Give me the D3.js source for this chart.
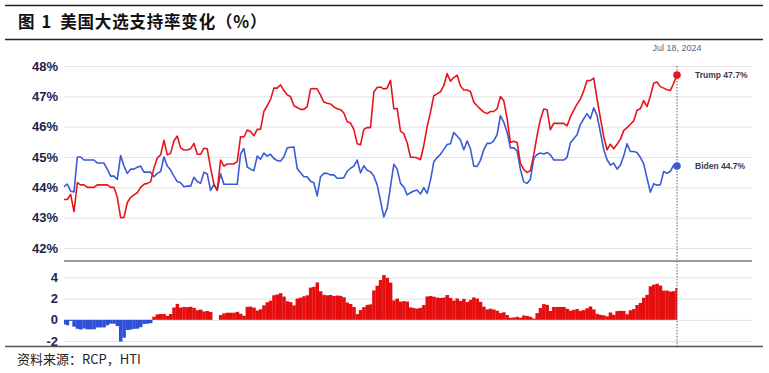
<!DOCTYPE html>
<html>
<head>
<meta charset="utf-8">
<script src="https://cdn.jsdelivr.net/npm/d3@7"></script>
<style>
  html, body { margin: 0; padding: 0; background: #fff; }
  svg { display: block; }
</style>
</head>
<body>
<svg id="chart" width="769" height="373"></svg>
<script>
// ---------------- DATA ----------------
const titleParts = ["图", "1", "美国大选支持率变化（%）"];
const sourceText = "资料来源：RCP，HTI";
const startDate = "2023-07-16";
const stepDays = 2;
const endLabel = "Jul 18, 2024";

const trump = [
 43.6,43.6,43.77,43.2,44.15,44.08,44.08,44.0,44.0,44.0,
 44.08,44.08,44.08,44.08,44.0,44.0,43.67,43.0,43.01,43.5,
 43.67,43.75,43.82,44.0,44.1,44.13,44.18,44.64,44.97,45.07,
 45.55,45.07,45.12,45.53,45.69,45.3,45.23,45.23,45.27,45.45,
 45.09,45.09,45.29,45.27,44.64,44.1,43.9,44.9,44.7,44.77,
 44.77,44.77,44.85,45.67,45.66,45.89,45.84,45.7,45.91,45.92,
 46.5,46.69,46.9,47.27,47.27,47.38,47.19,47.05,46.99,46.69,
 46.63,46.57,46.57,46.66,47.24,47.26,47.24,47.04,46.81,46.77,
 46.75,46.65,46.59,46.56,46.45,46.16,46.12,45.91,45.44,45.4,
 45.91,45.97,45.97,47.14,47.29,47.31,47.24,47.27,47.53,46.59,
 46.6,45.85,45.77,45.47,44.99,44.99,44.97,44.91,45.38,46.0,
 46.47,47.02,47.08,47.15,47.35,47.75,47.5,47.62,47.7,47.34,
 47.21,47.21,47.16,46.81,46.69,46.58,46.48,46.43,46.5,46.5,
 46.59,46.99,46.86,46.27,45.48,45.52,45.48,44.79,44.59,44.49,
 44.55,45.07,45.71,46.24,46.58,46.56,45.9,46.11,46.11,46.11,
 46.11,46.03,46.32,46.54,46.74,46.91,47.18,47.52,47.52,47.6,
 46.92,46.29,45.67,45.24,45.42,45.27,45.42,45.58,45.87,45.97,
 46.08,46.19,46.54,46.59,46.86,46.66,47.0,47.43,47.47,47.32,
 47.27,47.22,47.19,47.43,47.7
];

const biden = [
 44.02,44.11,43.87,43.85,45.0,45.0,44.9,44.9,44.9,44.9,
 44.8,44.8,44.8,44.6,44.37,44.37,44.26,45.05,44.7,44.46,
 44.6,44.6,44.66,44.7,44.5,44.5,44.5,44.35,44.46,44.52,
 45.0,44.7,44.57,44.37,44.19,44.15,44.02,44.04,44.04,44.33,
 44.19,44.13,44.5,44.44,43.9,44.1,43.9,44.45,44.1,44.1,
 44.1,44.1,44.1,45.1,45.28,44.67,44.6,44.55,45.03,44.93,
 45.13,45.03,45.09,44.95,44.88,44.87,45.0,45.3,45.32,45.33,
 44.62,44.48,44.35,44.35,44.2,44.15,43.72,44.35,44.46,44.46,
 44.41,44.41,44.3,44.3,44.32,44.53,44.63,44.7,44.9,44.48,
 44.71,44.56,44.51,44.37,44.08,43.56,43.02,43.31,44.02,44.76,
 44.6,44.13,44.01,43.75,43.82,43.88,43.91,43.78,43.99,43.8,
 44.23,44.84,44.98,45.09,45.25,45.41,45.44,45.81,45.69,45.56,
 45.24,45.53,45.27,44.7,44.69,44.89,45.24,45.45,45.45,45.53,
 45.74,46.36,46.15,45.82,45.3,45.3,45.2,44.59,44.18,44.13,
 44.27,44.95,45.08,45.13,45.1,45.15,45.07,44.9,44.9,44.9,
 44.9,44.99,45.46,45.6,45.73,46.07,46.26,46.43,46.26,46.62,
 46.37,45.82,45.25,44.91,44.73,44.8,44.6,44.73,45.03,45.44,
 45.18,45.18,45.15,44.99,44.78,44.3,43.84,44.12,44.07,44.09,
 44.52,44.46,44.53,44.73,44.7
];

const topTicks = [42, 43, 44, 45, 46, 47, 48];
const bottomTicks = [-2, 0, 2, 4];
const seriesNames = ["Trump", "Biden"];

// ---------------- BUILD ----------------
const parse = d3.timeParse("%Y-%m-%d");
const t0 = parse(startDate);
const dates = trump.map((_, i) => d3.timeDay.offset(t0, i * stepDays));
const spread = trump.map((t, i) => +(t - biden[i]).toFixed(2));

const svg = d3.select("#chart");
const RED = "#e8141b", BLUE = "#3a5ad6";
const LABEL = "#23234a";

const x = d3.scaleTime().domain(d3.extent(dates)).range([64, 677]);
const yTop = d3.scaleLinear().domain([42, 48]).range([248, 66]);
const yBot = d3.scaleLinear().domain([-2.5, 5.5]).range([346.3, 261.5]);

// title rules
svg.append("line").attr("x1", 5).attr("x2", 763).attr("y1", 5.5).attr("y2", 5.5)
  .attr("stroke", "#222").attr("stroke-width", 1.5);
svg.append("line").attr("x1", 5).attr("x2", 763).attr("y1", 39.5).attr("y2", 39.5)
  .attr("stroke", "#222").attr("stroke-width", 1.5);
const title = svg.append("text").attr("x", 18).attr("y", 28)
  .attr("font-family", "'Noto Sans CJK SC', sans-serif").attr("font-weight", "bold")
  .attr("font-size", 16.5).attr("fill", "#111");
title.append("tspan").text(titleParts[0]);
title.append("tspan").attr("dx", 7).text(titleParts[1]);
title.append("tspan").attr("dx", 9).attr("letter-spacing", 0.8).text(titleParts[2]);

// top grid
const gTop = svg.append("g");
const axTop = d3.axisLeft(yTop).tickValues(topTicks).tickSize(-(752 - 64)).tickFormat(d => d + "%");
gTop.attr("transform", "translate(64,0)").call(axTop);
gTop.select(".domain").remove();
gTop.selectAll(".tick line").attr("stroke", "#e3e3e6").attr("stroke-width", 1);
gTop.selectAll(".tick text").attr("x", -6).attr("font-family", "'Liberation Sans', Arial, sans-serif")
  .attr("font-weight", "bold").attr("font-size", 13).attr("fill", LABEL);

// bottom grid
const gBot = svg.append("g");
const axBot = d3.axisLeft(yBot).tickValues(bottomTicks).tickSize(-(752 - 64)).tickFormat(d3.format("d"));
gBot.attr("transform", "translate(64,0)").call(axBot);
gBot.select(".domain").remove();
gBot.selectAll(".tick line").attr("stroke", "#e3e3e6").attr("stroke-width", 1);
gBot.selectAll(".tick text").attr("x", -6).attr("font-family", "'Liberation Sans', Arial, sans-serif")
  .attr("font-weight", "bold").attr("font-size", 13).attr("fill", LABEL)
  .text(d => d < 0 ? "-" + Math.abs(d) : d);

// spread bars
const w = x(dates[1]) - x(dates[0]);
svg.append("g").selectAll("rect").data(spread).join("rect")
  .attr("x", (d, i) => Math.max(64, x(dates[i]) - w / 2))
  .attr("width", (d, i) => {
    const a = Math.max(64, x(dates[i]) - w / 2);
    const b = Math.min(677, x(dates[i]) + w / 2);
    return Math.max(0, b - a + 0.2);
  })
  .attr("y", d => d >= 0 ? yBot(d) : yBot(0))
  .attr("height", d => Math.abs(yBot(d) - yBot(0)))
  .attr("fill", d => d >= 0 ? "#e50d0d" : "#2d4fd6");

// separator lines
svg.append("line").attr("x1", 64).attr("x2", 752).attr("y1", 261).attr("y2", 261)
  .attr("stroke", "#7a7a7a").attr("stroke-width", 1.6);
svg.append("line").attr("x1", 5).attr("x2", 763).attr("y1", 346.5).attr("y2", 346.5)
  .attr("stroke", "#555").attr("stroke-width", 1.6);

// vertical dotted marker
svg.append("line").attr("x1", x(dates[dates.length - 1])).attr("x2", x(dates[dates.length - 1]))
  .attr("y1", 66).attr("y2", 347)
  .attr("stroke", "#5a5a78").attr("stroke-width", 1).attr("stroke-dasharray", "1.5,1.5");
svg.append("text").attr("x", x(dates[dates.length - 1])).attr("y", 51)
  .attr("text-anchor", "middle").attr("font-family", "'Liberation Sans', Arial, sans-serif")
  .attr("font-size", 9).attr("fill", "#5e5e7a").text(endLabel);

// lines
const line = d3.line().x((d, i) => x(dates[i])).y(d => yTop(d));
svg.append("path").datum(biden).attr("d", line).attr("fill", "none")
  .attr("stroke", BLUE).attr("stroke-width", 1.6).attr("stroke-linejoin", "round");
svg.append("path").datum(trump).attr("d", line).attr("fill", "none")
  .attr("stroke", RED).attr("stroke-width", 1.6).attr("stroke-linejoin", "round");

// end dots and labels
const last = dates.length - 1;
[[trump, RED, seriesNames[0]], [biden, BLUE, seriesNames[1]]].forEach(([s, c, n]) => {
  svg.append("circle").attr("cx", x(dates[last])).attr("cy", yTop(s[last])).attr("r", 3.8).attr("fill", c);
  svg.append("text").attr("x", 695).attr("y", yTop(s[last])).attr("dy", "0.35em")
    .attr("font-family", "'Liberation Sans', Arial, sans-serif").attr("font-weight", "bold")
    .attr("font-size", 8.5).attr("fill", "#3a3a4a").text(n + " " + s[last].toFixed(1) + "%");
});

// source
svg.append("text").attr("x", 17).attr("y", 364)
  .attr("font-family", "'Noto Sans CJK SC', sans-serif")
  .attr("font-size", 13).attr("fill", "#222").text(sourceText);
</script>
</body>
</html>
